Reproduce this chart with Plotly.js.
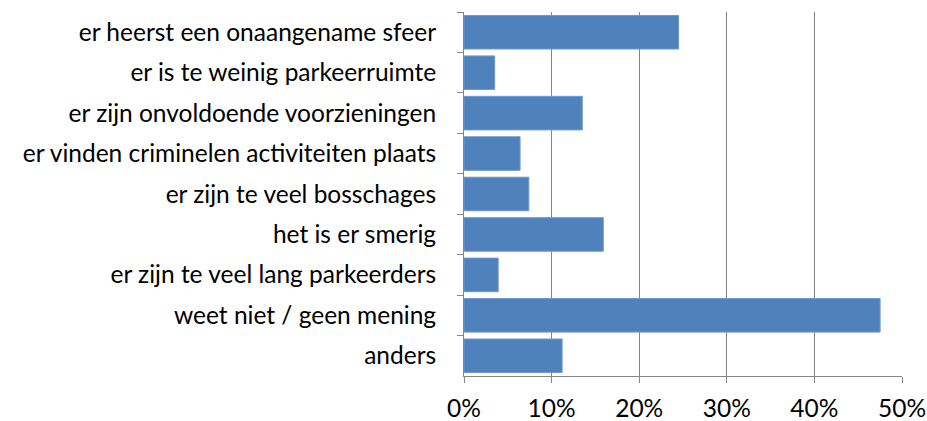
<!DOCTYPE html>
<html>
<head>
<meta charset="utf-8">
<script src="https://cdn.plot.ly/plotly-3.0.1.min.js"></script>
<style>
  html, body { margin: 0; padding: 0; background: #fff; }
  #myDiv { width: 927px; height: 421px; }
</style>
</head>
<body>
<div id="myDiv"></div>
<script>
// categories top to bottom, as in the picture
var categories = [
  'er heerst een onaangename sfeer',
  'er is te weinig parkeerruimte',
  'er zijn onvoldoende voorzieningen',
  'er vinden criminelen activiteiten plaats',
  'er zijn te veel bosschages',
  'het is er smerig',
  'er zijn te veel lang parkeerders',
  'weet niet / geen mening',
  'anders'
];
var shares = [0.245, 0.035, 0.135, 0.064, 0.074, 0.159, 0.039, 0.475, 0.112];
var xTicks = [0, 0.1, 0.2, 0.3, 0.4, 0.5];
var xTickLabels = ['0%', '10%', '20%', '30%', '40%', '50%'];

var trace1 = {
  type: 'bar',
  orientation: 'h',
  y: categories,
  x: shares,
  marker: {color: '#4F81BD', line: {color: '#6E98CC', width: 1}},
  hoverinfo: 'x+y'
};

var layout = {
  width: 927,
  height: 421,
  margin: {l: 464, r: 25, t: 12, b: 45},
  paper_bgcolor: '#fff',
  plot_bgcolor: '#fff',
  showlegend: false,
  bargap: 0.17,
  font: {family: 'Lato, "Open Sans", sans-serif', size: 24.5, color: '#000'},
  xaxis: {
    range: [0, 0.5],
    tickvals: xTicks,
    ticktext: xTickLabels,
    showgrid: true,
    gridcolor: '#868686',
    gridwidth: 1,
    zeroline: false,
    showline: true,
    linecolor: '#868686',
    ticks: 'outside',
    ticklen: 6,
    tickcolor: '#868686',
    ticklabelstandoff: 5,
    fixedrange: true
  },
  yaxis: {
    type: 'category',
    autorange: 'reversed',
    tickson: 'boundaries',
    ticks: 'outside',
    ticklen: 6,
    tickcolor: '#868686',
    showline: true,
    linecolor: '#868686',
    showgrid: false,
    zeroline: false,
    ticklabelstandoff: 22,
    fixedrange: true
  }
};

Plotly.newPlot('myDiv', [trace1], layout, {displayModeBar: false, staticPlot: true});
</script>
</body>
</html>
